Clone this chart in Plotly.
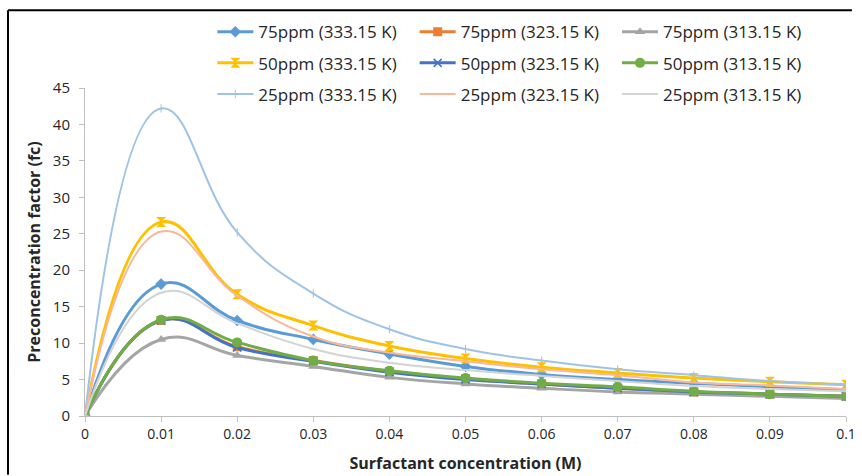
import plotly.graph_objects as go

x_vals = [0, 0.01, 0.02, 0.03, 0.04, 0.05, 0.06, 0.07, 0.08, 0.09, 0.1]
x_ticklabels = ["0", "0.01", "0.02", "0.03", "0.04", "0.05", "0.06", "0.07", "0.08", "0.09", "0.1"]
y_ticks = [0, 5, 10, 15, 20, 25, 30, 35, 40, 45]

ppm75_333 = [0, 18.1, 13.1, 10.5, 8.5, 6.8, 5.7, 5.0, 4.5, 4.0, 3.6]
ppm75_323 = [0, 13.1, 9.5, 7.6, 6.1, 5.1, 4.4, 3.8, 3.3, 3.0, 2.7]
ppm75_313 = [0, 10.5, 8.3, 6.8, 5.3, 4.4, 3.8, 3.3, 3.0, 2.7, 2.4]
ppm50_333 = [0, 26.6, 16.7, 12.4, 9.6, 7.9, 6.7, 5.9, 5.2, 4.7, 4.3]
ppm50_323 = [0, 13.1, 9.4, 7.5, 6.0, 5.0, 4.4, 3.8, 3.3, 3.0, 2.7]
ppm50_313 = [0, 13.2, 10.1, 7.6, 6.2, 5.2, 4.5, 4.0, 3.4, 3.0, 2.7]
ppm25_333 = [0, 42.2, 25.2, 16.8, 11.9, 9.2, 7.6, 6.4, 5.6, 4.8, 4.3]
ppm25_323 = [0, 25.3, 16.5, 10.9, 8.7, 7.5, 6.4, 5.6, 4.6, 4.2, 3.7]
ppm25_313 = [0, 16.9, 12.7, 9.2, 7.3, 6.3, 5.5, 4.8, 4.1, 3.7, 3.4]

series = [
    ("75ppm (333.15 K)", ppm75_333, "#5B9BD5", "diamond", 9, 3, "legend"),
    ("75ppm (323.15 K)", ppm75_323, "#ED7D31", "square", 9, 3, "legend2"),
    ("75ppm (313.15 K)", ppm75_313, "#A5A5A5", "triangle-up", 9, 3, "legend3"),
    ("50ppm (333.15 K)", ppm50_333, "#FFC000", "hourglass", 10, 3, "legend"),
    ("50ppm (323.15 K)", ppm50_323, "#4472C4", "x-thin", 8, 3, "legend2"),
    ("50ppm (313.15 K)", ppm50_313, "#70AD47", "circle", 10, 3, "legend3"),
    ("25ppm (333.15 K)", ppm25_333, "#9DC3E6", "line-ns", 6, 2, "legend"),
    ("25ppm (323.15 K)", ppm25_323, "#F8B89A", "line-ew", 5, 2, "legend2"),
    ("25ppm (313.15 K)", ppm25_313, "#D3D3D3", "line-ew", 5, 2, "legend3"),
]

fig = go.Figure()
for i, (name, vals, color, sym, msize, lw, leg) in enumerate(series):
    thin = sym in ("x-thin", "line-ns", "line-ew")
    fig.add_trace(go.Scatter(
        x=x_vals, y=vals, name=name, mode="lines+markers",
        line=dict(color=color, width=lw, shape="spline", smoothing=1.3),
        marker=dict(symbol=sym, size=msize, color=color,
                    line=dict(color=color, width=(1.5 if sym == "x-thin" else 1) if thin else 0)),
        legend=leg, legendgroup=name,
    ))

W, H = 862, 476
ml, mr, mt, mb = 85, 6, 88, 59
pw, ph = W - ml - mr, H - mt - mb

def px(xp):
    return (xp - ml) / pw

def py(yp):
    return (H - mb - yp) / ph

font_family = "Open Sans, Lato, sans-serif"
leg_common = dict(
    orientation="v", xanchor="left", yanchor="top",
    bgcolor="rgba(0,0,0,0)", font=dict(family=font_family, size=17, color="#262626"),
    tracegroupgap=6, itemwidth=36, traceorder="grouped",
)

fig.update_layout(
    width=W, height=H,
    margin=dict(l=ml, r=mr, t=mt, b=mb),
    paper_bgcolor="white", plot_bgcolor="white",
    font=dict(family=font_family, color="#262626"),
    showlegend=True,
    legend=dict(x=px(214), y=py(14), **leg_common),
    legend2=dict(x=px(419), y=py(14), **leg_common),
    legend3=dict(x=px(624), y=py(14), **leg_common),
    xaxis=dict(
        range=[0, 0.1], tickvals=x_vals, ticktext=x_ticklabels,
        showgrid=False, zeroline=False, showline=True, linecolor="#BFBFBF", linewidth=1,
        ticks="outside", ticklen=5, tickcolor="#BFBFBF", ticklabeloverflow="allow",
        tickfont=dict(family=font_family, size=14, color="#262626"),
        title=dict(text="<b>Surfactant concentration (M)</b>", standoff=16,
                   font=dict(family=font_family, size=16, color="#262626")),
    ),
    yaxis=dict(
        range=[0, 45], tickvals=y_ticks,
        showgrid=False, zeroline=False, showline=True, linecolor="#BFBFBF", linewidth=1,
        ticks="outside", ticklen=5, tickcolor="#BFBFBF", ticklabelstandoff=6,
        tickfont=dict(family=font_family, size=15, color="#262626"),
        title=dict(text="<b>Preconcentration factor (fc)</b>", standoff=8,
                   font=dict(family=font_family, size=16, color="#262626")),
    ),
    shapes=[
        dict(type="line", xref="paper", yref="paper", x0=px(7), x1=px(7), y0=py(10), y1=py(476),
             line=dict(color="black", width=2)),
        dict(type="line", xref="paper", yref="paper", x0=px(7), x1=px(862), y0=py(10), y1=py(10),
             line=dict(color="black", width=2)),
    ],
)

fig.write_html("out.html")
